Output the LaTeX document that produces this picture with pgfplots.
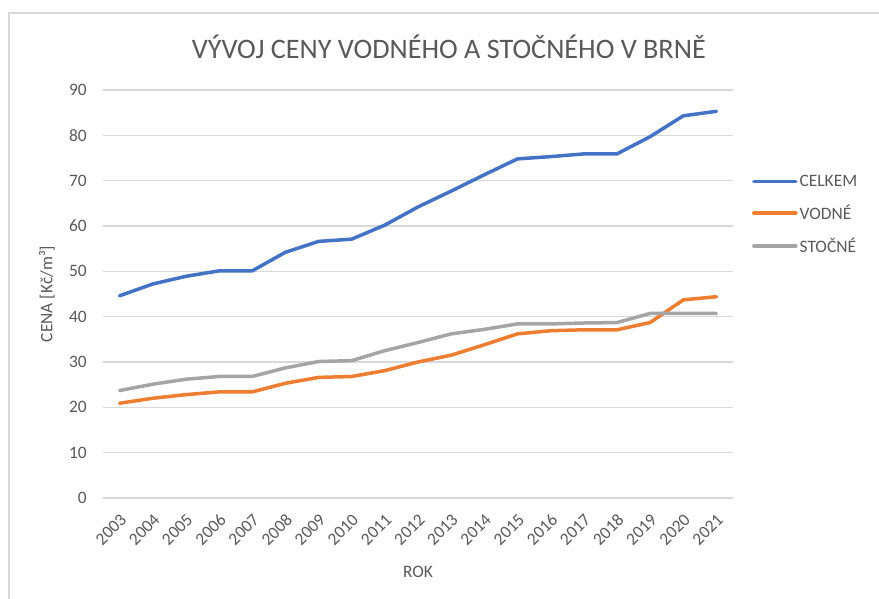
\documentclass[border=0pt]{standalone}
\usepackage{fontspec}
\setmainfont{Carlito}
\usepackage{pgfplots}
\pgfplotsset{compat=1.18}
\definecolor{txt}{HTML}{595959}
\definecolor{gridc}{HTML}{D9D9D9}
\definecolor{celkem}{HTML}{4472C4}
\definecolor{vodne}{HTML}{ED7D31}
\definecolor{stocne}{HTML}{A5A5A5}
\newcommand{\lbl}{\fontsize{17.5}{20}\selectfont}

\begin{document}
\begin{tikzpicture}[x=1bp,y=1bp]
\useasboundingbox (0,0) rectangle (879,599);
\draw[gridc, line width=1.5bp] (9,0) -- (9,586) -- (879,586);
\begin{axis}[
  at={(103bp,101bp)}, anchor=south west,
  scale only axis, width=630bp, height=408bp,
  xmin=2002.5, xmax=2021.5, ymin=0, ymax=90,
  xtick={2003,...,2021}, ytick={0,10,...,90},
  axis x line*=bottom, axis y line*=left,
  x axis line style={gridc, line width=1.3bp, -},
  y axis line style={draw=none},
  major tick length=0pt,
  ymajorgrids, major grid style={gridc, line width=1.3bp},
  /pgf/number format/assume math mode=true,
  ticklabel style={font=\lbl, text=txt},
  yticklabel style={inner sep=0pt, xshift=-16bp},
  xticklabel style={/pgf/number format/1000 sep={}, inner sep=0pt, xshift=4bp, yshift=-19bp, rotate=45, anchor=east},
  xlabel={ROK}, ylabel={CENA [Kč/m³]},
  label style={font=\lbl, text=txt},
  xlabel style={at={(axis description cs:0.5,-0.181)}, anchor=center},
  ylabel style={at={(axis description cs:-0.089,0.5)}, anchor=center},
  legend style={at={(1.03,0.695)}, anchor=west, draw=none, fill=none,
    font=\lbl, text=txt, row sep=13bp, inner sep=0pt, cells={anchor=west}},
  legend image code/.code={\draw[#1] (0bp,0bp) -- (42bp,0bp);},
  every axis plot/.append style={line width=3.5bp, line join=round, line cap=round},
  clip=false,
]
\addplot[celkem] coordinates {
 (2003,44.6) (2004,47.2) (2005,48.9) (2006,50.1) (2007,50.1) (2008,54.2)
 (2009,56.6) (2010,57.1) (2011,60.2) (2012,64.2) (2013,67.7) (2014,71.3)
 (2015,74.8) (2016,75.3) (2017,75.9) (2018,75.9) (2019,79.7) (2020,84.3)
 (2021,85.3)};
\addplot[vodne] coordinates {
 (2003,20.9) (2004,22.0) (2005,22.8) (2006,23.4) (2007,23.4) (2008,25.3)
 (2009,26.6) (2010,26.8) (2011,28.1) (2012,30.0) (2013,31.5) (2014,33.8)
 (2015,36.2) (2016,36.9) (2017,37.1) (2018,37.1) (2019,38.7) (2020,43.7)
 (2021,44.4)};
\addplot[stocne] coordinates {
 (2003,23.7) (2004,25.1) (2005,26.2) (2006,26.8) (2007,26.8) (2008,28.7)
 (2009,30.1) (2010,30.3) (2011,32.5) (2012,34.3) (2013,36.2) (2014,37.2)
 (2015,38.4) (2016,38.4) (2017,38.6) (2018,38.7) (2019,40.7) (2020,40.7)
 (2021,40.7)};
\legend{CELKEM,VODNÉ,STOČNÉ}
\node[font=\fontsize{28.3}{34}\selectfont, text=txt] at (axis description cs:0.549,1.105)
  {VÝVOJ CENY VODNÉHO A STOČNÉHO V BRNĚ};
\end{axis}
\end{tikzpicture}
\end{document}
